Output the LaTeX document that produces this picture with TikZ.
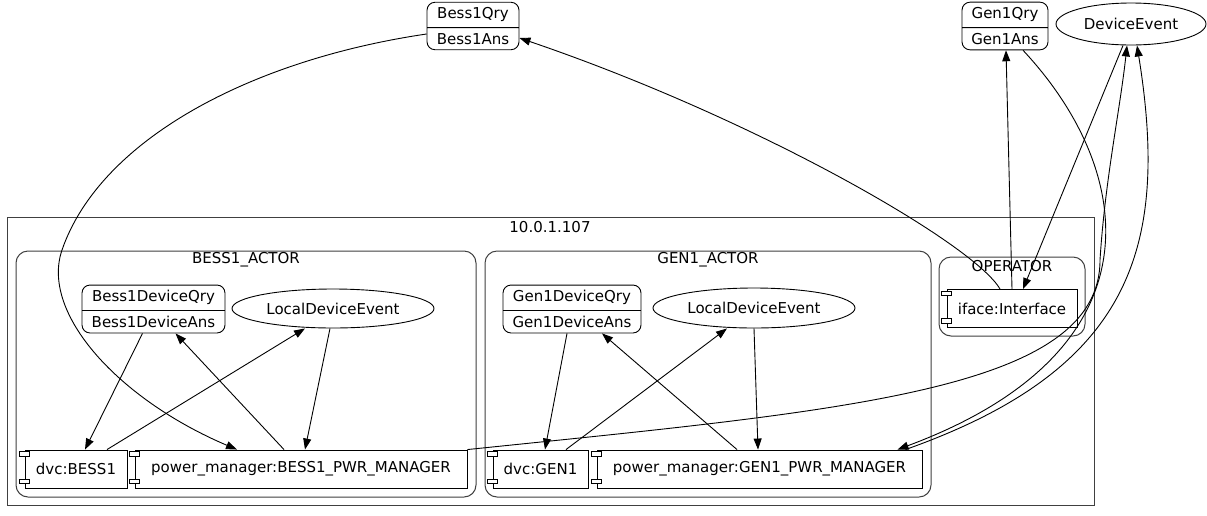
\documentclass[tikz,border=0pt]{standalone}
\usepackage{fontspec}
\setmainfont{DejaVu Sans}
\usetikzlibrary{shapes.geometric,shapes.multipart,arrows.meta}

\begin{document}
\begin{tikzpicture}[x=1pt,y=-1pt,
	font=\fontsize{15}{18}\selectfont,
	>={Triangle[length=11pt,width=8pt]},
	edge/.style={->,line width=0.9pt},
	cluster/.style={draw=black!75,line width=1pt},
	actor/.style={cluster,rounded corners=12pt},
	record/.style={draw,line width=0.9pt,rectangle split,rectangle split parts=2,rounded corners=8pt,inner xsep=3pt,inner ysep=5pt,text height=11pt,text depth=3.5pt},
	event/.style={draw,line width=0.9pt,ellipse,inner sep=0pt},
	comp/.style={draw,line width=0.9pt,minimum height=38pt,inner sep=0pt},
	tab/.style={draw,line width=0.8pt,fill=white}]
	\fill[white] (0,0) rectangle (1207,515);
	\useasboundingbox (0,0) rectangle (1207,515);
	%clusters
	\draw[cluster] (7,217) rectangle (1094,505);
	\node (hostlbl) at (550,227) {10.0.1.107};
	\draw[actor] (16,251) rectangle (476,497);
	\node (besslbl) at (246,260) {BESS1\_ACTOR};
	\draw[actor] (485,251) rectangle (931,497);
	\node (genlbl) at (708,260) {GEN1\_ACTOR};
	\draw[actor] (939,257) rectangle (1085,336);
	\node (oplbl) at (1012,266) {OPERATOR};
	%top nodes
	\node[record,minimum width=92pt] (bessqry) at (473,26) {Bess1Qry\nodepart{two}Bess1Ans};
	\node[record,minimum width=86pt] (genqry) at (1005,26) {Gen1Qry\nodepart{two}Gen1Ans};
	\node[event,minimum width=150pt,minimum height=42pt] (devev) at (1131,24) {DeviceEvent};
	%BESS1 actor
	\node[record,minimum width=143pt] (bessdevqry) at (153.5,309) {Bess1DeviceQry\nodepart{two}Bess1DeviceAns};
	\node[event,minimum width=202pt,minimum height=39pt] (bessldev) at (333,308.5) {LocalDeviceEvent};
	\node[comp,minimum width=102pt] (dvcb) at (76,469) {dvc:BESS1};
	\node[comp,minimum width=332pt] (pmb) at (301,469) {power\_manager:BESS1\_PWR\_MANAGER};
	%GEN1 actor
	\node[record,minimum width=138pt] (gendevqry) at (572,309) {Gen1DeviceQry\nodepart{two}Gen1DeviceAns};
	\node[event,minimum width=202pt,minimum height=40pt] (genldev) at (754,308) {LocalDeviceEvent};
	\node[comp,minimum width=95pt] (dvcg) at (540.5,469) {dvc:GEN1};
	\node[comp,minimum width=325pt] (pmg) at (759.5,469) {power\_manager:GEN1\_PWR\_MANAGER};
	%operator
	\node[comp,minimum width=130pt] (iface) at (1012,308.5) {iface:Interface};
	%component tabs
	\foreach \n in {dvcb,pmb,dvcg,pmg,iface} {
		\draw[tab] ([xshift=-5pt,yshift=-2pt]\n.north west) rectangle ++(10pt,-4.5pt);
		\draw[tab] ([xshift=-5pt,yshift=5pt]\n.south west) rectangle ++(10pt,4.5pt);
	}
	%bends
	\coordinate (abend) at (62,250);
	\coordinate (fbend) at (1100,260);
	%edges inside the actors
	\draw[edge] ([xshift=-11pt]bessdevqry.south) -- ([xshift=9pt]dvcb.north);
	\draw[edge] ([xshift=31pt]dvcb.north) -- ([xshift=-28pt]bessldev.south);
	\draw[edge] ([xshift=-17pt]pmb.north) -- ([xshift=22pt]bessdevqry.south);
	\draw[edge] ([xshift=-3pt]bessldev.south) -- ([xshift=4pt]pmb.north);
	\draw[edge] ([xshift=-5pt]gendevqry.south) -- ([xshift=4.5pt]dvcg.north);
	\draw[edge] ([xshift=25.5pt]dvcg.north) -- ([xshift=-27pt]genldev.south);
	\draw[edge] ([xshift=-22.5pt]pmg.north) -- ([xshift=30pt]gendevqry.south);
	\draw[edge] (genldev.south) -- ([xshift=-1.5pt]pmg.north);
	%edges to the top nodes
	\draw[edge] ([yshift=-8pt]bessqry.west) .. controls (250,60) and (100,140) .. (abend)
		.. controls (40,314) and (120,400) .. ([xshift=-64pt]pmb.north);
	\draw[edge] ([xshift=-12pt]iface.north) .. controls (975,245) and (760,120) .. ([yshift=-12pt]bessqry.east);
	\draw[edge] (iface.north) -- ([xshift=1pt]genqry.south);
	\draw[edge] ([xshift=-8pt]devev.south) -- ([xshift=11pt]iface.north);
	\draw[edge] ([xshift=18pt]genqry.south) .. controls (1135,170) and (1165,350) .. ([xshift=138pt]pmg.north);
	\draw[edge] ([xshift=146pt]pmg.north) .. controls (1130,370) and (1170,250) .. ([xshift=6pt]devev.south);
	\draw[edge] (pmb.north east) .. controls (850,410) and (1100,390) .. (fbend)
		.. controls (1105,180) and (1120,110) .. ([xshift=-4pt]devev.south);
\end{tikzpicture}
\end{document}
